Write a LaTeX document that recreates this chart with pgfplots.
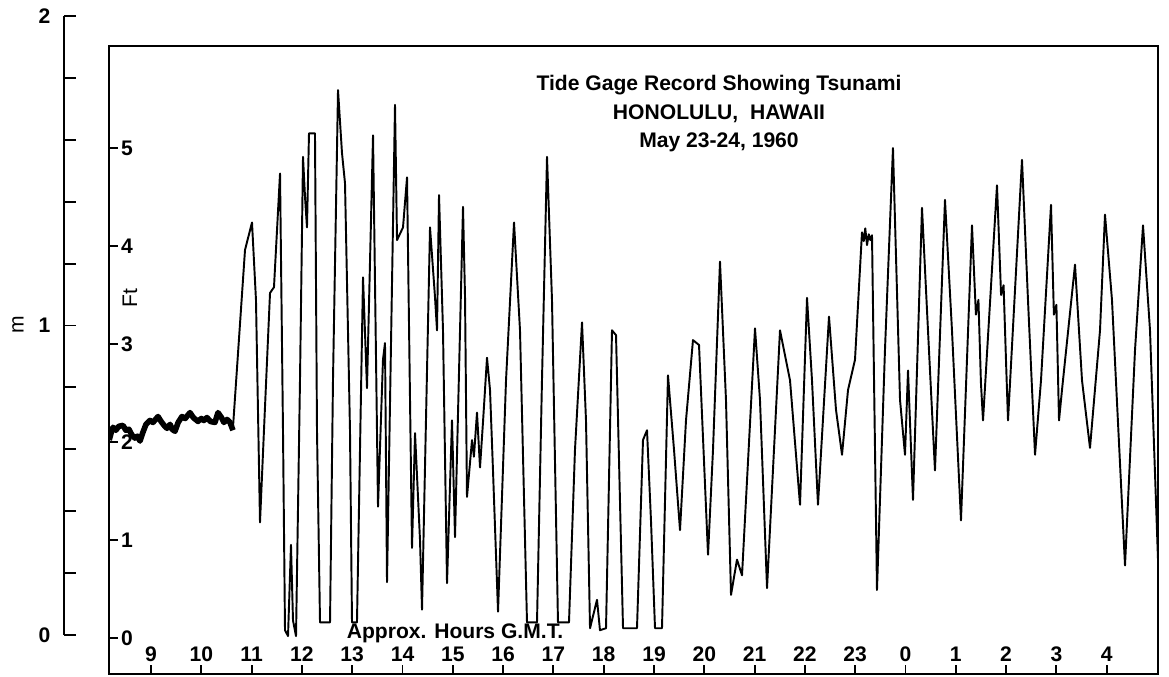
\documentclass[border=0pt]{standalone}
\usepackage{pgfplots}
\pgfplotsset{compat=1.18}
\usepackage{fontspec}
\setmainfont{Liberation Sans}

\begin{document}
\begin{tikzpicture}
\useasboundingbox (0,0) rectangle (23.38cm,13.54cm);

% metres scale, outside the box
\begin{axis}[at={(1.28cm,0.84cm)}, anchor=south west, scale only axis,
  width=0.5cm, height=12.38cm, xmin=0, xmax=1, ymin=0, ymax=2,
  axis x line=none, axis y line*=left,
  ytick={0,1,2}, minor ytick={0.2,0.4,...,1.8},
  tick align=inside, major tick length=0.24cm, minor tick length=0.24cm,
  axis line style={line width=1.1pt}, tick style={line width=1.1pt, black},
  yticklabel style={font=\large\bfseries, xshift=-0.15cm},
  /pgf/number format/assume math mode=true]
\end{axis}

% tide record, in feet
\begin{axis}[at={(2.18cm,0.06cm)}, anchor=south west, scale only axis,
  width=20.98cm, height=12.56cm,
  xmin=8.165, xmax=29.02, ymin=-0.367, ymax=6.041,
  xtick={9,...,28}, xticklabels={9,10,11,12,13,14,15,16,17,18,19,20,21,22,23,0,1,2,3,4},
  ytick={0,...,5}, xtick pos=bottom, ytick pos=left,
  tick align=inside, major tick length=0.18cm,
  xticklabel style={anchor=south, yshift=0.12cm, font=\large\bfseries},
  yticklabel style={anchor=west, xshift=0.12cm, font=\large\bfseries},
  axis line style={line width=1.1pt}, tick style={line width=1.1pt, black},
  /pgf/number format/assume math mode=true]

\addplot[black, line width=3.2pt, line join=round] coordinates {
(8.17,2.02) (8.21,2.10) (8.245,2.15) (8.30,2.12) (8.36,2.16) (8.443,2.17)
(8.50,2.12) (8.56,2.13) (8.622,2.07) (8.68,2.04) (8.73,2.06) (8.781,2.01)
(8.84,2.10) (8.90,2.18) (8.98,2.22) (9.04,2.20) (9.139,2.26) (9.20,2.21)
(9.26,2.17) (9.318,2.14) (9.38,2.18) (9.42,2.13) (9.477,2.11) (9.54,2.20)
(9.616,2.26) (9.68,2.24) (9.775,2.30) (9.84,2.25) (9.934,2.21) (10.0,2.24)
(10.05,2.22) (10.113,2.25) (10.18,2.21) (10.272,2.20) (10.332,2.30) (10.40,2.25)
(10.45,2.20) (10.511,2.23) (10.57,2.20) (10.63,2.12)
};

\addplot[black, line width=1.1pt, line join=round] coordinates {
(10.63,2.15) (10.869,3.96) (11.008,4.24) (11.087,3.45) (11.167,1.18) (11.246,2.12)
(11.366,3.52) (11.445,3.58) (11.565,4.74) (11.624,2.12) (11.664,0.08) (11.724,0.02)
(11.783,0.95) (11.823,0.18) (11.883,0.02) (11.962,2.63) (12.022,4.91) (12.062,4.50)
(12.101,4.19) (12.141,5.15) (12.260,5.15) (12.300,2.12) (12.360,0.16) (12.559,0.16)
(12.618,2.63) (12.718,5.59) (12.797,4.95) (12.857,4.64) (12.956,2.12) (12.996,0.16)
(13.095,0.16) (13.215,3.68) (13.294,2.55) (13.414,5.13) (13.513,1.34) (13.612,2.84)
(13.652,3.01) (13.692,0.57) (13.851,5.44) (13.891,4.06) (14.010,4.19) (14.090,4.70)
(14.189,0.92) (14.249,2.09) (14.348,1.00) (14.388,0.29) (14.547,4.19) (14.646,3.48)
(14.686,3.14) (14.726,4.52) (14.805,3.14) (14.885,0.56) (14.984,2.22) (15.044,1.03)
(15.203,4.40) (15.243,3.48) (15.282,1.44) (15.382,2.02) (15.42,1.85) (15.481,2.30)
(15.541,1.74) (15.60,2.20) (15.680,2.86) (15.740,2.53) (15.799,1.71) (15.899,0.27)
(16.058,2.63) (16.217,4.24)
(16.336,3.14) (16.475,0.16) (16.674,0.16) (16.773,2.63) (16.873,4.91) (16.972,3.45)
(17.091,0.16) (17.310,0.16) (17.429,1.92) (17.569,3.22) (17.648,2.22) (17.728,0.10)
(17.867,0.39) (17.926,0.08) (18.046,0.10) (18.165,3.14) (18.245,3.09) (18.384,0.10)
(18.662,0.10) (18.781,2.02) (18.861,2.12) (18.940,1.20) (19.020,0.10) (19.159,0.10)
(19.278,2.68) (19.398,1.92) (19.517,1.10) (19.636,2.22) (19.775,3.04) (19.895,2.99)
(20.074,0.85) (20.173,1.92) (20.312,3.84) (20.431,2.43) (20.531,0.44) (20.650,0.80)
(20.750,0.64) (21.008,3.16) (21.107,2.43) (21.247,0.51) (21.505,3.14) (21.704,2.63)
(21.903,1.36) (22.042,3.47) (22.141,2.63) (22.260,1.36) (22.479,3.28) (22.618,2.33)
(22.738,1.87) (22.857,2.53) (22.996,2.84) (23.135,4.14) (23.17,4.05) (23.20,4.18)
(23.235,4.01) (23.27,4.12) (23.30,4.06) (23.334,4.11)
(23.433,0.49) (23.592,2.94) (23.751,5.00) (23.891,2.43) (23.990,1.87) (24.050,2.73)
(24.149,1.41) (24.328,4.39) (24.447,3.14) (24.586,1.71) (24.785,4.47) (24.924,3.14)
(25.103,1.20) (25.322,4.21) (25.40,3.30) (25.45,3.45) (25.50,2.60) (25.541,2.22)
(25.819,4.62) (25.90,3.50) (25.95,3.60) (26.0,2.80) (26.038,2.22) (26.316,4.88)
(26.435,3.45) (26.575,1.87) (26.694,2.63) (26.893,4.42) (26.95,3.30) (27.0,3.40)
(27.052,2.22) (27.111,2.53)
(27.370,3.81) (27.509,2.63) (27.668,1.94) (27.867,3.14) (27.966,4.32) (28.105,3.45)
(28.364,0.74) (28.563,2.94) (28.722,4.21) (28.861,3.14) (29.020,0.80)
};
\end{axis}

\node[rotate=90, font=\large] at (0.36cm,7.04cm) {m};
\node[rotate=90, font=\large] at (2.60cm,7.58cm) {Ft};
\node[font=\large\bfseries] at (14.38cm,11.84cm) {Tide Gage Record Showing Tsunami};
\node[font=\large\bfseries] at (14.38cm,11.26cm) {HONOLULU,\ \ HAWAII};
\node[font=\large\bfseries] at (14.38cm,10.70cm) {May 23-24, 1960};
\node[font=\large\bfseries] at (9.10cm,0.88cm) {Approx. Hours G.M.T.};
\end{tikzpicture}
\end{document}
